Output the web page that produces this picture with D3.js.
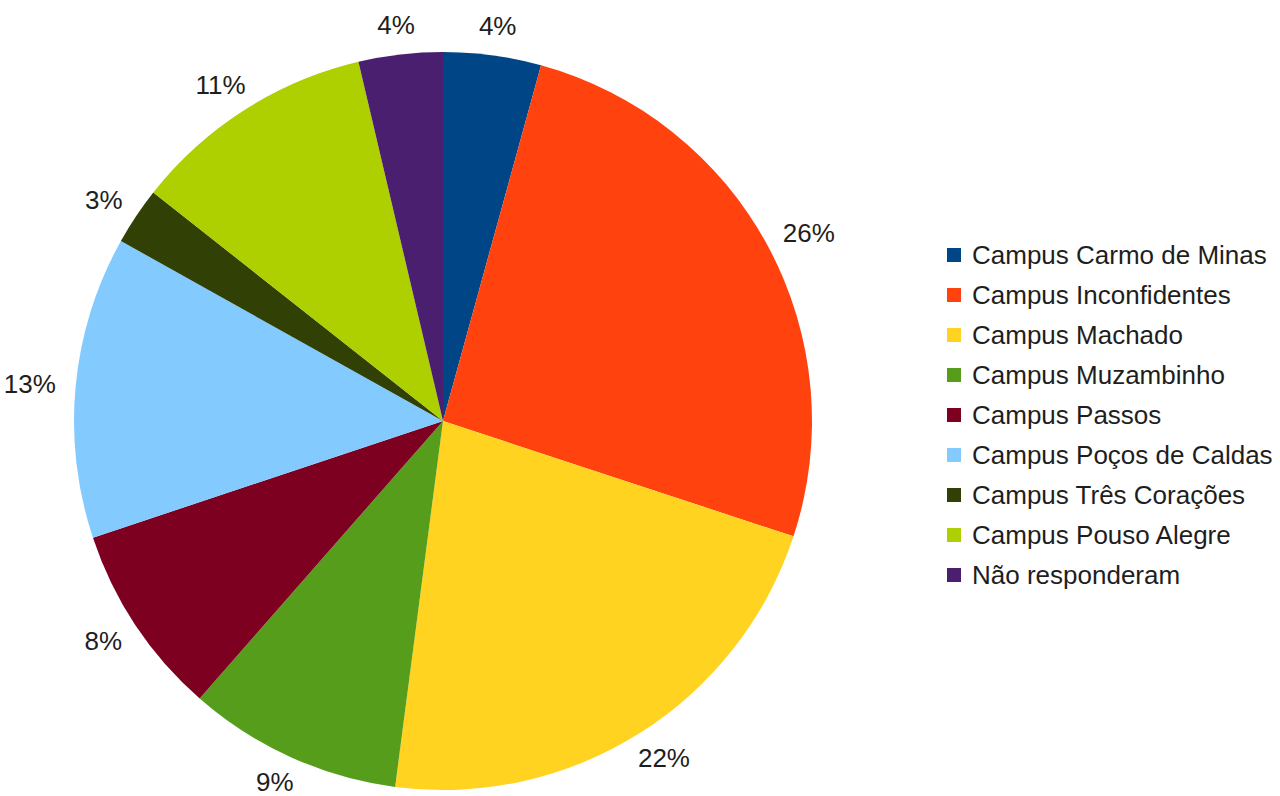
<!DOCTYPE html>
<html>
<head>
<meta charset="utf-8">
<script src="https://cdn.jsdelivr.net/npm/d3@7"></script>
<style>
  html, body { margin: 0; padding: 0; background: #ffffff; }
  svg { display: block; }
  text { font-family: "Liberation Sans", Arial, sans-serif; fill: #1e1e1e; }
</style>
</head>
<body>
<svg id="chart" width="1280" height="796"></svg>
<script>
// Data (percent of total)
const categories = [
  "Campus Carmo de Minas",
  "Campus Inconfidentes",
  "Campus Machado",
  "Campus Muzambinho",
  "Campus Passos",
  "Campus Poços de Caldas",
  "Campus Três Corações",
  "Campus Pouso Alegre",
  "Não responderam"
];
const values = [4.28, 25.78, 22.01, 9.39, 8.42, 13.23, 2.52, 10.69, 3.68];
const labels = ["4%", "26%", "22%", "9%", "8%", "13%", "3%", "11%", "4%"];
const colors = ["#004586", "#ff420e", "#ffd320", "#579d1c", "#7e0021",
                "#83caff", "#314004", "#aecf00", "#4b1f6f"];

const W = 1280, H = 796;
const svg = d3.select("#chart");
const cx = 443, cy = 421, r = 369;
const fontSize = 26;

const data = categories.map((c, i) => ({ name: c, value: values[i], label: labels[i], color: colors[i] }));

const pie = d3.pie().sort(null).value(d => d.value).startAngle(0).endAngle(2 * Math.PI);
const arc = d3.arc().innerRadius(0).outerRadius(r);
const arcs = pie(data);

const g = svg.append("g").attr("transform", `translate(${cx},${cy})`);
g.selectAll("path.slice")
  .data(arcs)
  .enter().append("path")
  .attr("class", "slice")
  .attr("d", arc)
  .attr("fill", d => d.data.color);

// Labels outside the pie
const gap = 20;
const lbl = g.selectAll("text.lbl")
  .data(arcs)
  .enter().append("text")
  .attr("class", "lbl")
  .style("font-size", fontSize + "px")
  .attr("text-anchor", "middle")
  .attr("dominant-baseline", "central")
  .text(d => d.data.label);

lbl.each(function(d) {
  const t = d3.select(this);
  const w = this.getComputedTextLength();
  const h = fontSize * 0.72;
  const a = (d.startAngle + d.endAngle) / 2;
  const s = Math.sin(a), c = Math.cos(a);
  const x = (r + gap) * s + s * w / 2;
  let y = -(r + gap) * c - c * h / 2;
  // keep the label inside the picture
  const maxY = H - cy - fontSize * 0.55;
  if (y > maxY) y = maxY;
  t.attr("x", x).attr("y", y);
});

// Legend
const legend = svg.append("g").attr("transform", "translate(947,255)");
const rowH = 40;
const items = legend.selectAll("g.item")
  .data(data)
  .enter().append("g")
  .attr("class", "item")
  .attr("transform", (d, i) => `translate(0,${i * rowH})`);
items.append("rect")
  .attr("x", 0).attr("y", -7)
  .attr("width", 14).attr("height", 14)
  .attr("fill", d => d.color);
items.append("text")
  .attr("x", 25)
  .attr("y", 0)
  .attr("dominant-baseline", "central")
  .style("font-size", fontSize + "px")
  .text(d => d.name);
</script>
</body>
</html>
